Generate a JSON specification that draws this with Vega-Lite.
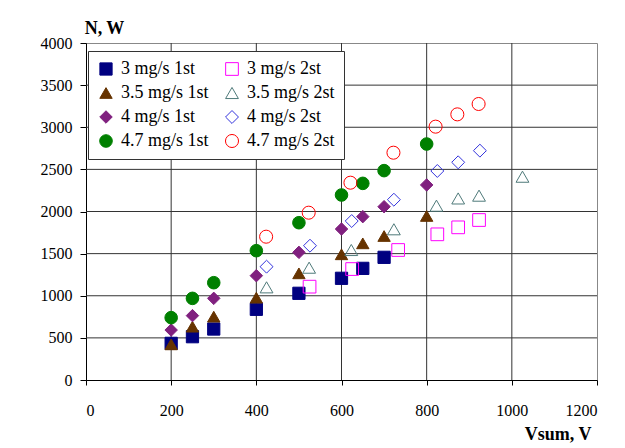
{
  "$schema": "https://vega.github.io/schema/vega-lite/v6.json",
  "autosize": {"type": "none"},
  "width": 511,
  "height": 337,
  "padding": {"left": 86, "top": 43, "right": 28, "bottom": 68},
  "background": "white",
  "datasets": {
    "gridx": [{"v": 200}, {"v": 400}, {"v": 600}, {"v": 800}, {"v": 1000}],
    "gridy": [{"n": 500}, {"n": 1000}, {"n": 1500}, {"n": 2000}, {"n": 2500}, {"n": 3000}, {"n": 3500}],
    "pts": [
    {"series": "3 mg/s 1st", "v": 200, "n": 435},
    {"series": "3 mg/s 1st", "v": 250, "n": 514},
    {"series": "3 mg/s 1st", "v": 300, "n": 605},
    {"series": "3 mg/s 1st", "v": 400, "n": 839},
    {"series": "3 mg/s 1st", "v": 500, "n": 1029},
    {"series": "3 mg/s 1st", "v": 600, "n": 1207},
    {"series": "3 mg/s 1st", "v": 650, "n": 1325},
    {"series": "3 mg/s 1st", "v": 700, "n": 1456},
    {"series": "3.5 mg/s 1st", "v": 200, "n": 423},
    {"series": "3.5 mg/s 1st", "v": 250, "n": 633},
    {"series": "3.5 mg/s 1st", "v": 300, "n": 752},
    {"series": "3.5 mg/s 1st", "v": 400, "n": 977},
    {"series": "3.5 mg/s 1st", "v": 500, "n": 1266},
    {"series": "3.5 mg/s 1st", "v": 600, "n": 1492},
    {"series": "3.5 mg/s 1st", "v": 650, "n": 1622},
    {"series": "3.5 mg/s 1st", "v": 700, "n": 1709},
    {"series": "3.5 mg/s 1st", "v": 800, "n": 1947},
    {"series": "4 mg/s 1st", "v": 200, "n": 593},
    {"series": "4 mg/s 1st", "v": 250, "n": 764},
    {"series": "4 mg/s 1st", "v": 300, "n": 969},
    {"series": "4 mg/s 1st", "v": 400, "n": 1238},
    {"series": "4 mg/s 1st", "v": 500, "n": 1515},
    {"series": "4 mg/s 1st", "v": 600, "n": 1792},
    {"series": "4 mg/s 1st", "v": 650, "n": 1939},
    {"series": "4 mg/s 1st", "v": 700, "n": 2057},
    {"series": "4 mg/s 1st", "v": 800, "n": 2315},
    {"series": "4.7 mg/s 1st", "v": 200, "n": 740},
    {"series": "4.7 mg/s 1st", "v": 250, "n": 969},
    {"series": "4.7 mg/s 1st", "v": 300, "n": 1155},
    {"series": "4.7 mg/s 1st", "v": 400, "n": 1535},
    {"series": "4.7 mg/s 1st", "v": 500, "n": 1867},
    {"series": "4.7 mg/s 1st", "v": 600, "n": 2196},
    {"series": "4.7 mg/s 1st", "v": 650, "n": 2334},
    {"series": "4.7 mg/s 1st", "v": 700, "n": 2485},
    {"series": "4.7 mg/s 1st", "v": 800, "n": 2801},
    {"series": "3 mg/s 2st", "v": 525, "n": 1108},
    {"series": "3 mg/s 2st", "v": 625, "n": 1317},
    {"series": "3 mg/s 2st", "v": 733, "n": 1543},
    {"series": "3 mg/s 2st", "v": 825, "n": 1729},
    {"series": "3 mg/s 2st", "v": 874, "n": 1812},
    {"series": "3 mg/s 2st", "v": 923, "n": 1899},
    {"series": "3.5 mg/s 2st", "v": 424, "n": 1100},
    {"series": "3.5 mg/s 2st", "v": 524, "n": 1333},
    {"series": "3.5 mg/s 2st", "v": 623, "n": 1543},
    {"series": "3.5 mg/s 2st", "v": 723, "n": 1789},
    {"series": "3.5 mg/s 2st", "v": 823, "n": 2069},
    {"series": "3.5 mg/s 2st", "v": 874, "n": 2155},
    {"series": "3.5 mg/s 2st", "v": 923, "n": 2188},
    {"series": "3.5 mg/s 2st", "v": 1025, "n": 2413},
    {"series": "4 mg/s 2st", "v": 424, "n": 1345},
    {"series": "4 mg/s 2st", "v": 526, "n": 1594},
    {"series": "4 mg/s 2st", "v": 624, "n": 1887},
    {"series": "4 mg/s 2st", "v": 723, "n": 2140},
    {"series": "4 mg/s 2st", "v": 825, "n": 2481},
    {"series": "4 mg/s 2st", "v": 874, "n": 2584},
    {"series": "4 mg/s 2st", "v": 925, "n": 2722},
    {"series": "4.7 mg/s 2st", "v": 423, "n": 1701},
    {"series": "4.7 mg/s 2st", "v": 523, "n": 1986},
    {"series": "4.7 mg/s 2st", "v": 621, "n": 2342},
    {"series": "4.7 mg/s 2st", "v": 722, "n": 2698},
    {"series": "4.7 mg/s 2st", "v": 821, "n": 3007},
    {"series": "4.7 mg/s 2st", "v": 872, "n": 3153},
    {"series": "4.7 mg/s 2st", "v": 922, "n": 3276}
  ]},
  "layer": [
    {
      "data": {"name": "gridx"},
      "mark": {"type": "rule", "color": "#333333", "strokeWidth": 1},
      "encoding": {"x": {"field": "v", "type": "quantitative",
          "scale": {"domain": [0, 1200], "nice": false},
          "axis": {"tickCount": 6, "format": "d", "grid": false,
            "domainColor": "black", "tickColor": "black",
            "labelFont": "Liberation Serif", "labelFontSize": 16, "labelColor": "black",
            "title": "Vsum, V", "titleFont": "Liberation Serif", "titleFontSize": 18, "titleColor": "black",
            "titleAngle": 0, "titleX": 505, "titleY": 59, "titleAlign": "right", "titleBaseline": "alphabetic",
            "labelPadding": 17, "tickSize": 5}}}
    },
    {
      "data": {"name": "gridy"},
      "mark": {"type": "rule", "color": "#333333", "strokeWidth": 1},
      "encoding": {"y": {"field": "n", "type": "quantitative",
          "scale": {"domain": [0, 4000], "nice": false},
          "axis": {"tickCount": 8, "format": "d", "grid": false,
            "domainColor": "black", "tickColor": "black",
            "labelFont": "Liberation Serif", "labelFontSize": 16, "labelColor": "black",
            "title": "N, W", "titleFont": "Liberation Serif", "titleFontSize": 18, "titleColor": "black",
            "titleAngle": 0, "titleX": 18, "titleY": -10, "titleAlign": "center", "titleBaseline": "alphabetic",
            "labelPadding": 8, "tickSize": 6}}}
    },
    {
      "data": {"name": "pts"},
      "mark": {"type": "point", "strokeWidth": 1, "opacity": 1},
      "encoding": {
        "x": {"field": "v", "type": "quantitative",
          "scale": {"domain": [0, 1200], "nice": false},
          "axis": {"tickCount": 6, "format": "d", "grid": false,
            "domainColor": "black", "tickColor": "black",
            "labelFont": "Liberation Serif", "labelFontSize": 16, "labelColor": "black",
            "title": "Vsum, V", "titleFont": "Liberation Serif", "titleFontSize": 18, "titleColor": "black",
            "titleAngle": 0, "titleX": 505, "titleY": 59, "titleAlign": "right", "titleBaseline": "alphabetic",
            "labelPadding": 17, "tickSize": 5}},
        "y": {"field": "n", "type": "quantitative",
          "scale": {"domain": [0, 4000], "nice": false},
          "axis": {"tickCount": 8, "format": "d", "grid": false,
            "domainColor": "black", "tickColor": "black",
            "labelFont": "Liberation Serif", "labelFontSize": 16, "labelColor": "black",
            "title": "N, W", "titleFont": "Liberation Serif", "titleFontSize": 18, "titleColor": "black",
            "titleAngle": 0, "titleX": 18, "titleY": -10, "titleAlign": "center", "titleBaseline": "alphabetic",
            "labelPadding": 8, "tickSize": 6}},
        "shape": {"field": "series", "type": "nominal",
          "scale": {"domain": ["3 mg/s 1st", "3.5 mg/s 1st", "4 mg/s 1st", "4.7 mg/s 1st", "3 mg/s 2st", "3.5 mg/s 2st", "4 mg/s 2st", "4.7 mg/s 2st"],
            "range": ["square", "triangle-up", "diamond", "circle", "square", "triangle-up", "diamond", "circle"]}},
        "fill": {"field": "series", "type": "nominal",
          "scale": {"domain": ["3 mg/s 1st", "3.5 mg/s 1st", "4 mg/s 1st", "4.7 mg/s 1st", "3 mg/s 2st", "3.5 mg/s 2st", "4 mg/s 2st", "4.7 mg/s 2st"],
            "range": ["#000080", "#663300", "#80207F", "#008000", "transparent", "transparent", "transparent", "transparent"]}},
        "stroke": {"field": "series", "type": "nominal",
          "scale": {"domain": ["3 mg/s 1st", "3.5 mg/s 1st", "4 mg/s 1st", "4.7 mg/s 1st", "3 mg/s 2st", "3.5 mg/s 2st", "4 mg/s 2st", "4.7 mg/s 2st"],
            "range": ["#000080", "#663300", "#80207F", "#008000", "#FF00FF", "#4F7A7A", "#3333DD", "#FF0000"]}},
        "size": {"field": "series", "type": "nominal",
          "scale": {"domain": ["3 mg/s 1st", "3.5 mg/s 1st", "4 mg/s 1st", "4.7 mg/s 1st", "3 mg/s 2st", "3.5 mg/s 2st", "4 mg/s 2st", "4.7 mg/s 2st"],
            "range": [150, 170, 150, 125, 150, 170, 150, 125]}}
      }
    }
  ],
  "config": {
    "view": {"stroke": "#888888", "strokeWidth": 1},
    "legend": {
      "orient": "none", "legendX": 2, "legendY": 8, "columns": 2, "title": null,
      "labelFont": "Liberation Serif", "labelFontSize": 18, "labelColor": "black", "labelLimit": 300,
      "strokeColor": "#333333", "fillColor": "white", "padding": 9,
      "rowPadding": 6, "columnPadding": 14, "labelOffset": 6, "symbolStrokeWidth": 1, "symbolOpacity": 1
    }
  }
}
